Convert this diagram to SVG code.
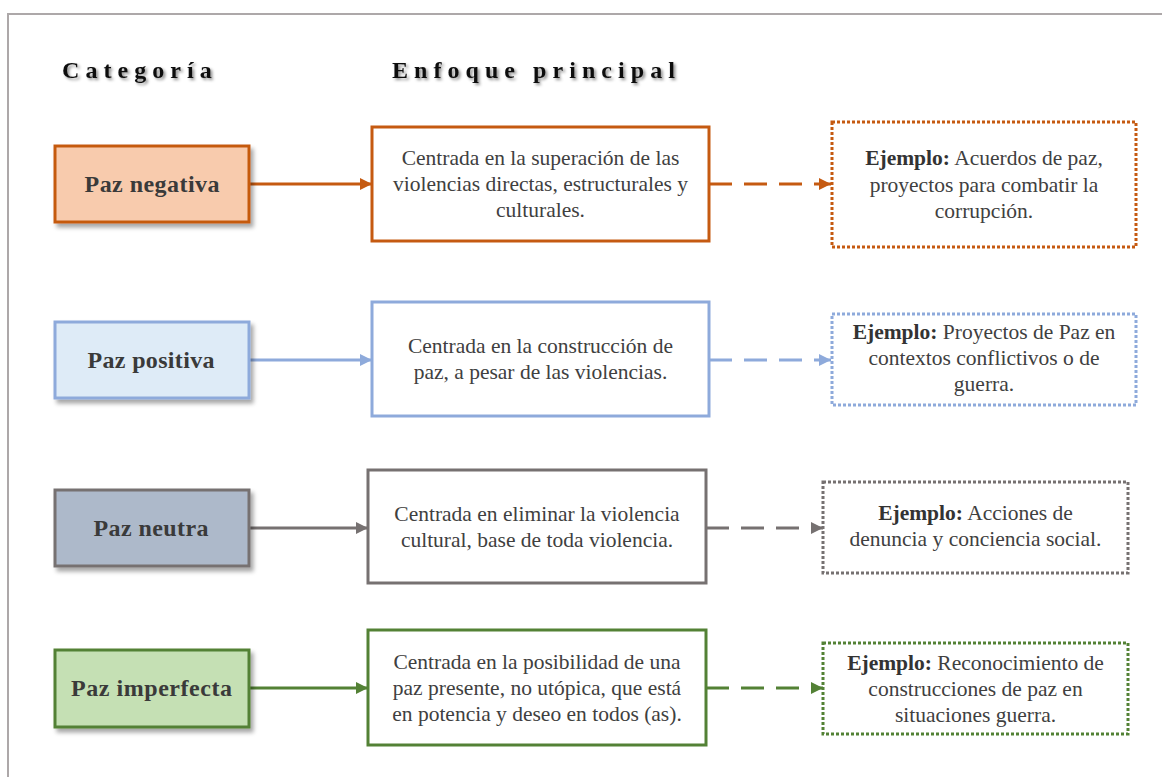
<svg xmlns="http://www.w3.org/2000/svg" width="1162" height="777" viewBox="0 0 1162 777">
<style>
.hdr{font-family:"Liberation Serif","Times New Roman",serif;font-weight:bold;font-size:24px;letter-spacing:6.05px;fill:#111}
.cat{font-family:"Liberation Serif","Times New Roman",serif;font-weight:bold;font-size:24px;fill:#3a3a3a;text-anchor:middle}
.body{font-family:"Liberation Serif","Times New Roman",serif;font-size:21.5px;fill:#404040;text-anchor:middle}
.b{font-weight:bold;fill:#333}
.catbox{stroke-width:3}
.mid{fill:#fff;stroke-width:3}
.ex{fill:#fff;stroke-width:3;stroke-dasharray:3 2}
.solid{fill:none;stroke-width:3}
.dash{fill:none;stroke-width:3;stroke-dasharray:23 12}
</style>
<defs>
<filter id="sh" x="-10%" y="-10%" width="130%" height="140%">
<feDropShadow dx="3" dy="4" stdDeviation="2" flood-color="#000" flood-opacity="0.35"/>
</filter>
<filter id="tsh" x="-5%" y="-20%" width="115%" height="160%">
<feDropShadow dx="2" dy="2" stdDeviation="1.5" flood-color="#000" flood-opacity="0.45"/>
</filter>
<marker id="aO" markerUnits="userSpaceOnUse" markerWidth="14" markerHeight="12" refX="12" refY="6" orient="auto"><path d="M0,0 L12,6 L0,12 Z" fill="#c55a11"/></marker>
<marker id="aB" markerUnits="userSpaceOnUse" markerWidth="14" markerHeight="12" refX="12" refY="6" orient="auto"><path d="M0,0 L12,6 L0,12 Z" fill="#8eaadb"/></marker>
<marker id="aG" markerUnits="userSpaceOnUse" markerWidth="14" markerHeight="12" refX="12" refY="6" orient="auto"><path d="M0,0 L12,6 L0,12 Z" fill="#767171"/></marker>
<marker id="aV" markerUnits="userSpaceOnUse" markerWidth="14" markerHeight="12" refX="12" refY="6" orient="auto"><path d="M0,0 L12,6 L0,12 Z" fill="#538135"/></marker>
</defs>
<rect width="1162" height="777" fill="#fff"/>
<rect x="8" y="14" width="1170" height="800" fill="none" stroke="#ada8a9" stroke-width="2"/>

<g id="headers" filter="url(#tsh)">
<text class="hdr" x="62" y="78">Categoría</text>
<text class="hdr" x="392" y="78">Enfoque principal</text>
</g>

<g id="connectors">
<path class="solid" d="M249,184 H372" stroke="#c55a11" marker-end="url(#aO)"/>
<path class="dash" d="M709,184 H831" stroke="#c55a11" marker-end="url(#aO)"/>
<path class="solid" d="M249,360 H372" stroke="#8eaadb" marker-end="url(#aB)"/>
<path class="dash" d="M709,360 H831" stroke="#8eaadb" marker-end="url(#aB)"/>
<path class="solid" d="M249,528 H368" stroke="#767171" marker-end="url(#aG)"/>
<path class="dash" d="M706,528 H823" stroke="#767171" marker-end="url(#aG)"/>
<path class="solid" d="M249,688 H368" stroke="#538135" marker-end="url(#aV)"/>
<path class="dash" d="M706,688 H823" stroke="#538135" marker-end="url(#aV)"/>
</g>

<!-- Row 1 -->
<g id="cat-negativa">
<rect class="catbox" x="55" y="146" width="194" height="76" fill="#f8cbad" stroke="#c55a11" filter="url(#sh)"/>
<text class="cat" x="152" y="192" textLength="135" lengthAdjust="spacing">Paz negativa</text>
</g>
<g id="enf-negativa">
<rect class="mid" x="372" y="127" width="337" height="114" stroke="#c55a11"/>
<text class="body" x="540.5" y="165">Centrada en la superación de las</text>
<text class="body" x="540.5" y="191">violencias directas, estructurales y</text>
<text class="body" x="540.5" y="217">culturales.</text>
</g>
<g id="ej-negativa">
<rect class="ex" x="832" y="122" width="304" height="125" stroke="#c55a11"/>
<text class="body" x="984" y="165"><tspan class="b">Ejemplo:</tspan> Acuerdos de paz,</text>
<text class="body" x="984" y="192">proyectos para combatir la</text>
<text class="body" x="984" y="218">corrupción.</text>
</g>

<!-- Row 2 -->
<g id="cat-positiva">
<rect class="catbox" x="55" y="322" width="194" height="76" fill="#deebf7" stroke="#8eaadb" filter="url(#sh)"/>
<text class="cat" x="151" y="368" textLength="127" lengthAdjust="spacing">Paz positiva</text>
</g>
<g id="enf-positiva">
<rect class="mid" x="372" y="302" width="337" height="114" stroke="#8eaadb"/>
<text class="body" x="540.5" y="353">Centrada en la construcción de</text>
<text class="body" x="540.5" y="379">paz, a pesar de las violencias.</text>
</g>
<g id="ej-positiva">
<rect class="ex" x="832" y="314" width="304" height="91" stroke="#8eaadb"/>
<text class="body" x="984" y="339"><tspan class="b">Ejemplo:</tspan> Proyectos de Paz en</text>
<text class="body" x="984" y="365">contextos conflictivos o de</text>
<text class="body" x="984" y="391">guerra.</text>
</g>

<!-- Row 3 -->
<g id="cat-neutra">
<rect class="catbox" x="55" y="490" width="194" height="76" fill="#adb9ca" stroke="#767171" filter="url(#sh)"/>
<text class="cat" x="151" y="536" textLength="115" lengthAdjust="spacing">Paz neutra</text>
</g>
<g id="enf-neutra">
<rect class="mid" x="368" y="470" width="338" height="113" stroke="#767171"/>
<text class="body" x="537" y="521">Centrada en eliminar la violencia</text>
<text class="body" x="537" y="547">cultural, base de toda violencia.</text>
</g>
<g id="ej-neutra">
<rect class="ex" x="823" y="482" width="305" height="91" stroke="#767171"/>
<text class="body" x="975.5" y="520"><tspan class="b">Ejemplo:</tspan> Acciones de</text>
<text class="body" x="975.5" y="546">denuncia y conciencia social.</text>
</g>

<!-- Row 4 -->
<g id="cat-imperfecta">
<rect class="catbox" x="55" y="650" width="194" height="77" fill="#c5e0b4" stroke="#538135" filter="url(#sh)"/>
<text class="cat" x="151.5" y="696" textLength="161" lengthAdjust="spacing">Paz imperfecta</text>
</g>
<g id="enf-imperfecta">
<rect class="mid" x="368" y="630" width="338" height="115" stroke="#538135"/>
<text class="body" x="537" y="669">Centrada en la posibilidad de una</text>
<text class="body" x="537" y="695">paz presente, no utópica, que está</text>
<text class="body" x="537" y="721">en potencia y deseo en todos (as).</text>
</g>
<g id="ej-imperfecta">
<rect class="ex" x="823" y="643" width="305" height="91" stroke="#538135"/>
<text class="body" x="975.5" y="670"><tspan class="b">Ejemplo:</tspan> Reconocimiento de</text>
<text class="body" x="975.5" y="696">construcciones de paz en</text>
<text class="body" x="975.5" y="722">situaciones guerra.</text>
</g>
</svg>
